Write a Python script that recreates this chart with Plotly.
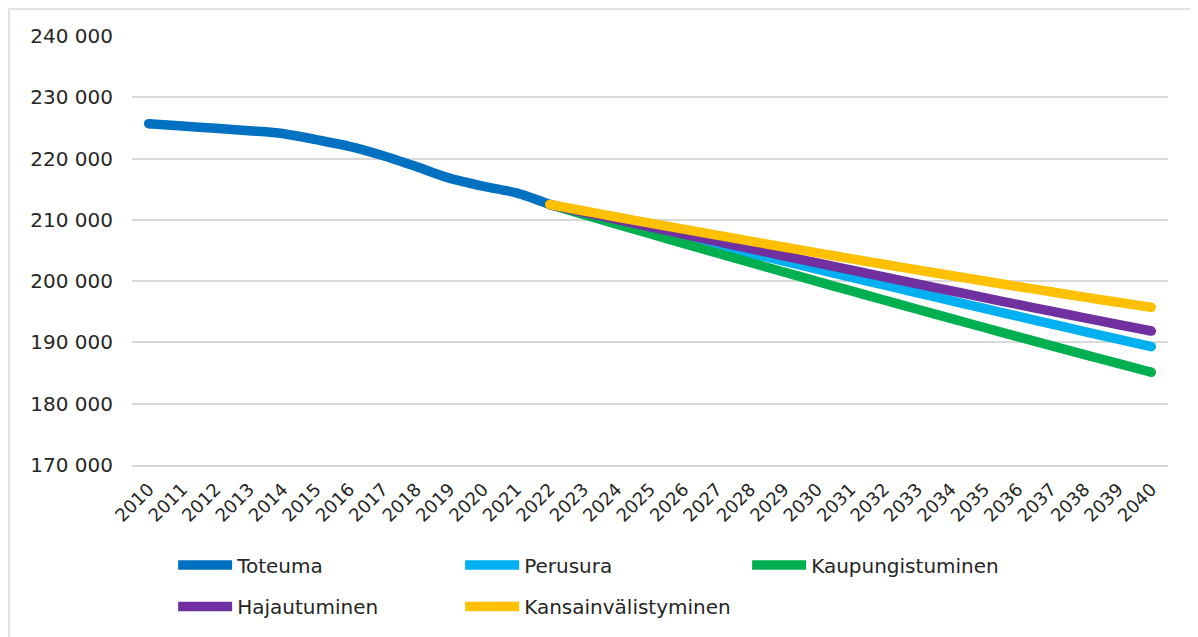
import plotly.graph_objects as go

# Väestö 2010-2040: toteuma ja skenaariot
years_hist = list(range(2010, 2023))
years_proj = list(range(2022, 2041))

toteuma = [225700, 225300, 224950, 224550, 224100, 223100, 222000,
           220500, 218700, 216800, 215500, 214400, 212500]

perusura = [212500, 211160, 209830, 208500, 207180, 205860, 204550,
            203250, 201950, 200660, 199370, 198090, 196820, 195550,
            194290, 193030, 191780, 190540, 189300]
kaupungistuminen = [212500, 210900, 209310, 207730, 206160, 204590, 203040,
                    201500, 199960, 198440, 196920, 195410, 193920, 192430,
                    190950, 189480, 188020, 186570, 185130]
hajautuminen = [212500, 211280, 210070, 208870, 207670, 206490, 205310,
                204140, 202980, 201830, 200690, 199550, 198430, 197310,
                196200, 195100, 194010, 192930, 191860]
kansainvalistyminen = [212500, 211480, 210470, 209470, 208480, 207500, 206530,
                       205570, 204620, 203680, 202750, 201830, 200920, 200020,
                       199130, 198260, 197400, 196550, 195720]

series = [
    ("Toteuma", years_hist, toteuma, "#0070C0", "legend"),
    ("Perusura", years_proj, perusura, "#00B0F0", "legend"),
    ("Kaupungistuminen", years_proj, kaupungistuminen, "#00B050", "legend"),
    ("Hajautuminen", years_proj, hajautuminen, "#7030A0", "legend2"),
    ("Kansainvälistyminen", years_proj, kansainvalistyminen, "#FFC000", "legend2"),
]

FONT = "DejaVu Sans"
TEXT = "#262626"
GRID = "#D9D9D9"
LW = 9.5

fig = go.Figure()
for name, xs, ys, color, leg in series:
    fig.add_trace(
        go.Scatter(
            x=xs, y=ys, name=name, mode="lines",
            line=dict(color=color, width=LW, shape="spline", smoothing=0.8),
            legend=leg, hoverinfo="x+y+name",
        )
    )
    # round line ends
    fig.add_trace(
        go.Scatter(
            x=[xs[0], xs[-1]], y=[ys[0], ys[-1]], mode="markers",
            marker=dict(color=color, size=LW, line=dict(width=0)),
            showlegend=False, hoverinfo="skip",
        )
    )

legend_common = dict(
    orientation="h", xanchor="left", yanchor="middle",
    font=dict(family=FONT, size=20, color=TEXT),
    itemwidth=54, entrywidth=218, tracegroupgap=0,
    bgcolor="rgba(0,0,0,0)",
)

# page body adds an 8px offset, so the figure is sized to the visible area
fig.update_layout(
    width=1190, height=629,
    margin=dict(l=124, r=30, t=28, b=171),
    paper_bgcolor="white", plot_bgcolor="white",
    font=dict(family=FONT, size=20, color=TEXT),
    separators=", ",
    showlegend=True,
    legend=dict(x=0.0397, y=-0.23, **legend_common),
    legend2=dict(x=0.0397, y=-0.327, **legend_common),
    xaxis=dict(
        range=[2009.5, 2040.5], tickmode="array",
        tickvals=list(range(2010, 2041)), tickangle=-45,
        showgrid=False, zeroline=False, showline=True,
        linecolor=GRID, linewidth=1.5, ticks="",
        tickfont=dict(family=FONT, size=18, color=TEXT),
        ticklabelstandoff=5,
    ),
    yaxis=dict(
        range=[170000, 240000], dtick=10000, tickformat=",d",
        showgrid=True, gridcolor=GRID, gridwidth=1.5,
        zeroline=False, showline=False, ticks="",
        tickfont=dict(family=FONT, size=20, color=TEXT),
        ticklabelstandoff=18,
    ),
    shapes=[
        dict(type="rect", xref="paper", yref="paper",
             x0=-0.1187, x1=1.0232, y0=-0.45, y1=1.0628,
             line=dict(color=GRID, width=1.5), layer="below"),
    ],
)

fig.write_html("out.html")
